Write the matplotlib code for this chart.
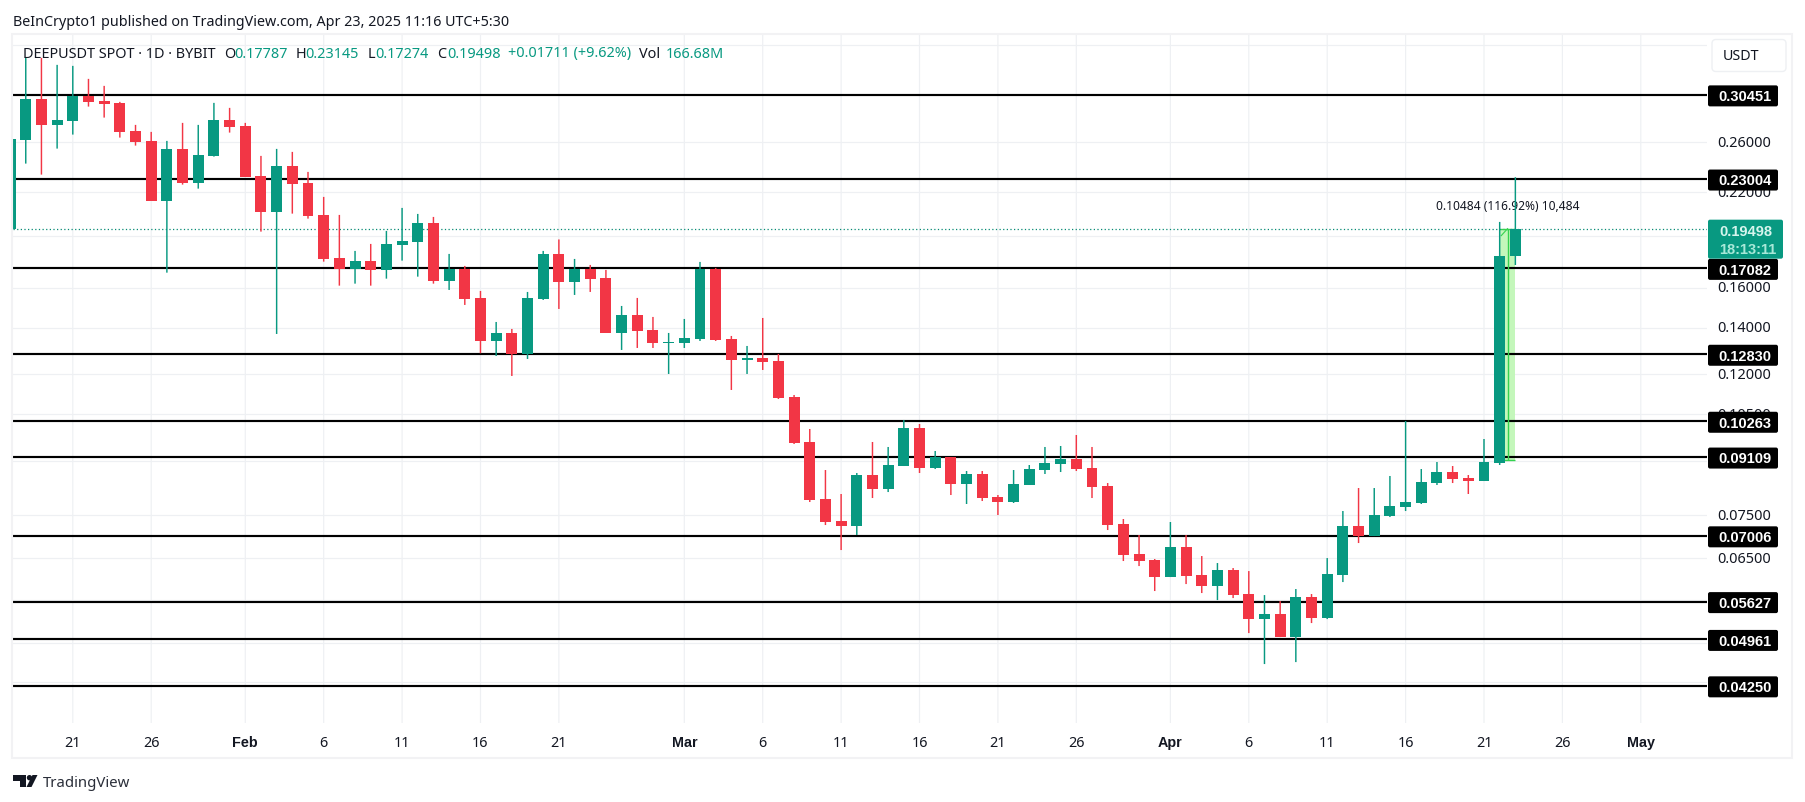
import matplotlib
matplotlib.use("Agg")
import matplotlib.pyplot as plt
import matplotlib.dates as mdates
import numpy as np
import pandas as pd
from matplotlib.patches import Circle, FancyBboxPatch, Polygon, Rectangle
from matplotlib.ticker import NullLocator
from matplotlib.transforms import ScaledTranslation

plt.rcParams['font.family'] = ['Noto Sans', 'DejaVu Sans']
BOLD_FONT = ['Liberation Sans', 'DejaVu Sans']

UP = '#089981'
DOWN = '#F23645'
INK = '#131722'

# daily candles, 17 Jan 2025 to 23 Apr 2025
first_day = "2025-01-17"
opens = [0.19481, 0.26236, 0.30048, 0.27581, 0.27951, 0.30350, 0.29848, 0.29650, 0.27008, 0.26122,
         0.21408, 0.25435, 0.22732, 0.24848, 0.28016, 0.27462, 0.23246, 0.20638, 0.24034, 0.22710,
         0.20412, 0.17686, 0.17067, 0.17510, 0.17010, 0.18488, 0.18674, 0.19875, 0.16397, 0.17049,
         0.15479, 0.13425, 0.13774, 0.12843, 0.15427, 0.17924, 0.16326, 0.17049, 0.16546, 0.13788,
         0.14626, 0.13912, 0.13314, 0.13322, 0.13501, 0.17049, 0.13501, 0.12589, 0.12673, 0.12547,
         0.11128, 0.09578, 0.07920, 0.07360, 0.07239, 0.08580, 0.08189, 0.08841, 0.10035, 0.08783,
         0.09111, 0.08327, 0.08609, 0.07973, 0.07842, 0.08299, 0.08724, 0.08901, 0.09050, 0.08783,
         0.08271, 0.07287, 0.06594, 0.06463, 0.06107, 0.06749, 0.06148, 0.05927, 0.06251, 0.05771,
         0.05309, 0.05398, 0.05000, 0.05713, 0.05327, 0.06148, 0.07239, 0.07001, 0.07484, 0.07712,
         0.07816, 0.08354, 0.08666, 0.08495, 0.08410, 0.08930, 0.17787]
highs = [0.26297, 0.34448, 0.34448, 0.33654, 0.33542, 0.32119, 0.31378, 0.29749, 0.27553, 0.26918,
         0.26122, 0.27738, 0.27553, 0.29650, 0.29160, 0.27738, 0.24848, 0.25435, 0.25182, 0.23558,
         0.21674, 0.20412, 0.18104, 0.18531, 0.19352, 0.20894, 0.20480, 0.20276, 0.17924, 0.17221,
         0.15844, 0.14288, 0.13959, 0.15791, 0.18104, 0.18811, 0.17627, 0.17278, 0.16993, 0.15071,
         0.15479, 0.14529, 0.13774, 0.14432, 0.17452, 0.17106, 0.13637, 0.13190, 0.14480, 0.12843,
         0.11202, 0.10002, 0.08724, 0.08054, 0.08638, 0.09578, 0.09420, 0.10307, 0.10170, 0.09295,
         0.09111, 0.08695, 0.08695, 0.08027, 0.08724, 0.08871, 0.09420, 0.09451, 0.09804, 0.09420,
         0.08354, 0.07410, 0.07025, 0.06485, 0.07336, 0.07025, 0.06550, 0.06399, 0.06293, 0.06230,
         0.05751, 0.05638, 0.05868, 0.05771, 0.06506, 0.07610, 0.08216, 0.08216, 0.08552, 0.10272,
         0.08753, 0.08960, 0.08841, 0.08580, 0.09674, 0.19941, 0.23145]
lows = [0.19481, 0.24219, 0.23347, 0.25460, 0.26677, 0.29286, 0.28232, 0.26411, 0.25716, 0.21408,
        0.16840, 0.22581, 0.22282, 0.24790, 0.26855, 0.23191, 0.19307, 0.13728, 0.20501, 0.20162,
        0.17469, 0.16126, 0.16234, 0.16126, 0.16507, 0.17528, 0.16617, 0.16234, 0.15897, 0.15122,
        0.12873, 0.12757, 0.11935, 0.12631, 0.15376, 0.14921, 0.15634, 0.15791, 0.13774, 0.13015,
        0.13102, 0.13102, 0.12015, 0.13102, 0.13412, 0.13412, 0.11391, 0.12015, 0.12176, 0.11054,
        0.09514, 0.07842, 0.07263, 0.06682, 0.07025, 0.07947, 0.08107, 0.08841, 0.08638, 0.08753,
        0.08027, 0.07790, 0.07868, 0.07509, 0.07816, 0.08299, 0.08609, 0.08666, 0.08695, 0.07947,
        0.07143, 0.06442, 0.06335, 0.05829, 0.06107, 0.05966, 0.05790, 0.05656, 0.05694, 0.05067,
        0.04570, 0.05000, 0.04600, 0.05239, 0.05309, 0.06006, 0.06840, 0.07001, 0.07459, 0.07610,
        0.07790, 0.08299, 0.08354, 0.08054, 0.08410, 0.08871, 0.17274]
closes = [0.26297, 0.30048, 0.27581, 0.28016, 0.30380, 0.29778, 0.29581, 0.26945, 0.26035, 0.21408,
          0.25435, 0.22732, 0.24931, 0.28016, 0.27398, 0.23191, 0.20638, 0.24034, 0.22657, 0.20364,
          0.17645, 0.17067, 0.17510, 0.17010, 0.18531, 0.18717, 0.19875, 0.16397, 0.17049, 0.15427,
          0.13425, 0.13774, 0.12843, 0.15479, 0.17924, 0.16326, 0.17049, 0.16491, 0.13788, 0.14626,
          0.13880, 0.13336, 0.13367, 0.13546, 0.17049, 0.13456, 0.12589, 0.12673, 0.12505, 0.11091,
          0.09546, 0.07894, 0.07336, 0.07239, 0.08580, 0.08189, 0.08871, 0.10035, 0.08783, 0.09111,
          0.08327, 0.08609, 0.07947, 0.07842, 0.08327, 0.08753, 0.08930, 0.09050, 0.08753, 0.08244,
          0.07263, 0.06572, 0.06442, 0.06107, 0.06749, 0.06127, 0.05927, 0.06251, 0.05751, 0.05309,
          0.05398, 0.05000, 0.05713, 0.05327, 0.06168, 0.07239, 0.07001, 0.07509, 0.07738, 0.07842,
          0.08382, 0.08666, 0.08467, 0.08410, 0.08960, 0.17805, 0.19498]

levels = [0.30451, 0.23004, 0.17082, 0.12830, 0.10263, 0.09109, 0.07006, 0.05627, 0.04961, 0.04250]
level_labels = ['0.30451', '0.23004', '0.17082', '0.12830', '0.10263',
                '0.09109', '0.07006', '0.05627', '0.04961', '0.04250']

# price scale lines, the ones without text sit behind the black labels
grid_prices = [0.36, 0.26, 0.22, 0.19, 0.16, 0.14, 0.12, 0.105, 0.09, 0.075, 0.065, 0.0565, 0.049, 0.043]
grid_labels = ['', '0.26000', '0.22000', '', '0.16000', '0.14000', '0.12000', '0.10500',
               '', '0.07500', '0.06500', '', '', '']

tick_days = ["2025-01-21", "2025-01-26", "2025-02-01", "2025-02-06", "2025-02-11", "2025-02-16",
             "2025-02-21", "2025-03-01", "2025-03-06", "2025-03-11", "2025-03-16", "2025-03-21",
             "2025-03-26", "2025-04-01", "2025-04-06", "2025-04-11", "2025-04-16", "2025-04-21",
             "2025-04-26", "2025-05-01"]
tick_labels = ['21', '26', 'Feb', '6', '11', '16', '21', 'Mar', '6', '11', '16', '21', '26',
               'Apr', '6', '11', '16', '21', '26', 'May']

measure_from = 0.09014
measure_days = ["2025-04-22", "2025-04-23"]
measure_text = '0.10484 (116.92%) 10,484'
countdown = '18:13:11'

W, H = 1805, 803


def px_rect(x0, y0, x1, y1):
    return [x0 / W, 1 - y1 / H, (x1 - x0) / W, (y1 - y0) / H]


fig = plt.figure(figsize=(W / 100, H / 100), dpi=100, facecolor='white')
ax = fig.add_axes(px_rect(13, 34, 1707, 724))
days = mdates.date2num(pd.date_range(first_day, periods=len(opens)))
opens, highs, lows, closes = map(np.array, (opens, highs, lows, closes))
colors = np.where(closes >= opens, UP, DOWN)

ax.set_yscale('log')
wicks = ax.vlines(days, lows, highs, colors=colors, lw=1.05, zorder=4)
wicks.set_snap(False)
ax.bar(days, np.abs(closes - opens), bottom=np.minimum(opens, closes), width=0.70,
       color=colors, linewidth=0, zorder=5)

ax.hlines(levels, 0, 1, transform=ax.get_yaxis_transform(), color='black', lw=1.55, zorder=3)
ax.axhline(closes[-1], color='#078a74', lw=0.9, ls=(0, (1, 1.9)), zorder=3)

# price range tool on the last two candles
m0, m1 = mdates.date2num(pd.to_datetime(measure_days))
mid = (m0 + m1) / 2
ax.fill_between([m0, m1], measure_from, closes[-1], color='#c4f7bb', linewidth=0, zorder=2)
ax.hlines([measure_from, closes[-1]], m0, m1, color='#35d24f', lw=1.0, zorder=3)
ax.vlines(mid, measure_from, closes[-1], color='#35d24f', lw=1.0, zorder=3)
ax.plot([m0 + 0.1, mid], [closes[-1] * 0.977, closes[-1]], color='#35d24f', lw=0.8, zorder=3)
ax.text(mid, closes[-1] * 1.081, measure_text, ha='center', va='center', fontsize=8.65,
        color=INK, zorder=3.5)

d0 = mdates.date2num(pd.Timestamp("2025-01-21"))
ax.set_xlim(d0 - 59.8 / 15.68, d0 + 1634.2 / 15.68)
ax.set_ylim(0.03755, 0.37424)

ax.set_xticks(mdates.date2num(pd.to_datetime(tick_days)))
ax.set_xticklabels(tick_labels, fontsize=10.4, color=INK)
for lab in ax.get_xticklabels():
    if not lab.get_text().isdigit():
        lab.set_family(BOLD_FONT)
        lab.set_fontweight('bold')
ax.yaxis.tick_right()
ax.set_yticks(grid_prices)
ax.set_yticklabels(grid_labels, fontsize=10.45, color=INK)
ax.yaxis.set_minor_locator(NullLocator())
ax.tick_params(axis='x', length=0, pad=8.5)
ax.tick_params(axis='y', length=0, pad=7.4)
for lab in ax.get_yticklabels():
    lab.set_transform(lab.get_transform() + ScaledTranslation(0, 1.5 / 72, fig.dpi_scale_trans))
ax.grid(True, color='#eef0f3', lw=0.85, zorder=0)
for g in ax.get_xgridlines():
    g.set_snap(False)
ax.set_axisbelow(True)
for s in ax.spines.values():
    s.set_visible(False)

# page chrome, drawn in pixel coordinates over everything
ov = fig.add_axes([0, 0, 1, 1], zorder=10)
ov.set_xlim(0, W)
ov.set_ylim(H, 0)
ov.axis('off')
ov.patch.set_alpha(0)
fig.canvas.draw()


def price_y(p):
    return H - ax.transData.transform((d0, p))[1]


ov.add_patch(Rectangle((12, 34.5), 1780, 724.5, fill=False, edgecolor='#f2f2f4', lw=1.5))
ov.text(13, 22, 'BeInCrypto1 published on TradingView.com, Apr 23, 2025 11:16 UTC+5:30',
        fontsize=10.3, color=INK, va='center')

legend_parts = [(23, 'DEEPUSDT SPOT · 1D · BYBIT', INK), (224, 'O', INK), (234, '0.17787', UP),
                (296, 'H', INK), (305, '0.23145', UP), (368, 'L', INK), (375, '0.17274', UP),
                (437, 'C', INK), (447, '0.19498', UP), (508, '+0.01711 (+9.62%)', UP),
                (639, 'Vol', INK), (666, '166.68M', UP)]
for x, s, c in legend_parts:
    ov.text(x, 54, s, fontsize=10.4, color=c, va='center')

ov.add_patch(FancyBboxPatch((1712, 40.5), 74, 32, boxstyle='round,pad=0,rounding_size=4',
                            facecolor='white', edgecolor='#eef0f3', lw=1.0))
ov.text(1723, 56.3, 'USDT', fontsize=10.3, color=INK, va='center')

# price tags
for p, s in zip(levels, level_labels):
    y = price_y(p)
    ov.add_patch(FancyBboxPatch((1708, y - 9.5), 70, 21, boxstyle='round,pad=0,rounding_size=2',
                                facecolor='black', edgecolor='none'))
    ov.text(1745, y + 1.3, s, fontsize=10.5, family=BOLD_FONT, color='white', weight='bold',
            ha='center', va='center')

y = price_y(closes[-1])
ov.add_patch(FancyBboxPatch((1708, y - 9), 75, 39, boxstyle='round,pad=0,rounding_size=2',
                            facecolor=UP, edgecolor='none', zorder=3))
ov.text(1745.5, y + 2.8, '%.5f' % closes[-1], fontsize=10.5, family=BOLD_FONT, color='#d6f5ed',
        weight='bold', ha='center', va='center', zorder=4)
ov.text(1747.5, y + 20, countdown, fontsize=10.5, family=BOLD_FONT, color='#a8e8d8',
        weight='bold', ha='center', va='center', zorder=4)

# TradingView mark
ov.add_patch(Polygon([(13, 776), (26, 776), (26, 788), (20, 788), (20, 781.5), (13, 781.5)], color='#131722', lw=0))
ov.add_patch(Circle((29.5, 778.7), 2.7, color='#131722', lw=0))
ov.add_patch(Polygon([(32.5, 776), (37.5, 776), (31.5, 788), (26.5, 788)], color='#131722', lw=0))
ov.text(43, 783.5, 'TradingView', fontsize=10.75, color='#2a2e39', va='center')

fig.savefig('out.png', dpi=100)
